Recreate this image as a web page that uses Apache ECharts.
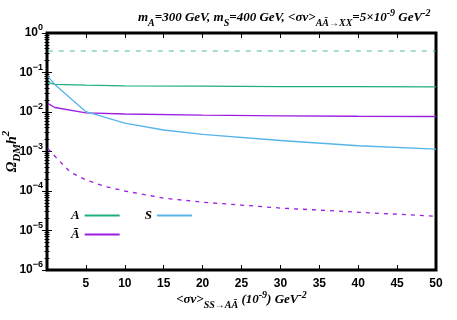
<!DOCTYPE html>
<html>
<head>
<meta charset="utf-8">
<script src="https://cdn.jsdelivr.net/npm/echarts@6/dist/echarts.min.js"></script>
</head>
<body style="margin:0">
<div id="main" style="width:457px;height:320px;"></div>
<script type="text/javascript">
// x tick values (10^-9 GeV^-2)
var xTicks = [5, 10, 15, 20, 25, 30, 35, 40, 45, 50];
var yTicks = [1e-6, 1e-5, 1e-4, 1e-3, 1e-2, 1e-1, 1];

// A, solid
var aX = [0.1, 1, 5, 10, 20, 30, 40, 50];
var aY = [0.056, 0.05, 0.048, 0.046, 0.045, 0.044, 0.044, 0.0435];
// A, dashed
var aDashX = [0.1, 50];
var aDashY = [0.35, 0.35];
// A-bar, solid
var abX = [0.1, 1, 5, 10, 20, 30, 40, 50];
var abY = [0.0165, 0.013, 0.0095, 0.0089, 0.0083, 0.008, 0.0078, 0.0077];
// A-bar, dashed
var abDashX = [0.1, 1.5, 3, 5, 7.5, 10, 15, 20, 25, 30, 40, 50];
var abDashY = [0.0012, 0.0006, 0.0003, 0.00019, 0.00013, 0.0001, 0.000066, 0.000052, 0.000044, 0.000037, 0.000029, 0.000023];
// S, solid
var sX = [0.1, 1, 5, 10, 15, 20, 30, 40, 50];
var sY = [0.08, 0.05, 0.0102, 0.0052, 0.0035, 0.0027, 0.0019, 0.0014, 0.00115];

function pairs(xs, ys) {
	var out = [];
	for (var i = 0; i < xs.length; i++) out.push([xs[i], ys[i]]);
	return out;
}

var green = '#1fae80', purple = '#9b1fe0', blue = '#56b4e9';
var serif = 'Liberation Serif', sans = 'Liberation Sans';

var chart = echarts.init(document.getElementById('main'));

var supRich = {
	b: {fontFamily: sans, fontWeight: 'bold', fontSize: 12, color: '#000'},
	s: {fontFamily: sans, fontWeight: 'bold', fontSize: 9, color: '#000', padding: [0, 0, 10, 0]}
};
function textRich(size) {
	var base = {fontFamily: serif, fontStyle: 'italic', fontWeight: 'bold', color: '#000'};
	return {
		t: Object.assign({fontSize: size}, base),
		sub: Object.assign({fontSize: size - 3, padding: [size - 3, 0, 0, 0]}, base),
		sup: Object.assign({fontSize: size - 3, padding: [0, 0, size - 3, 0]}, base)
	};
}

var option = {
	animation: false,
	title: {
		text: '{t|m}{sub|A}{t|=300 GeV, m}{sub|S}{t|=400 GeV, <σv>}{sub|AĀ→XX}{t|=5×10}{sup|-9}{t| GeV}{sup|-2}',
		left: 133,
		top: 3,
		textStyle: {rich: textRich(13)}
	},
	grid: {left: 47, right: 21, top: 33, bottom: 50, show: true, borderColor: '#000', borderWidth: 3,
		outerBoundsMode: 'none', containLabel: false},
	legend: [
		{
			data: ['A', 'S'], left: 66, top: 204, align: 'right', icon: 'rect',
			itemWidth: 35, itemHeight: 2, itemGap: 25,
			textStyle: {fontFamily: serif, fontStyle: 'italic', fontWeight: 'bold', fontSize: 13, color: '#000'}
		},
		{
			data: ['Ā'], left: 66, top: 223, align: 'right', icon: 'rect',
			itemWidth: 35, itemHeight: 2,
			textStyle: {fontFamily: serif, fontStyle: 'italic', fontWeight: 'bold', fontSize: 13, color: '#000'}
		}
	],
	xAxis: [
		{
			type: 'value', min: 0, max: 50, interval: 5, position: 'bottom',
			axisLine: {show: false},
			axisTick: {inside: true, length: 5, lineStyle: {color: '#000'}},
			splitLine: {show: false},
			axisLabel: {showMinLabel: false, margin: 8, fontFamily: sans, fontWeight: 'bold', fontSize: 12, color: '#000'},
			name: '{t|<σv>}{sub|SS→AĀ}{t| (10}{sup|-9}{t|) GeV}{sup|-2}',
			nameLocation: 'middle', nameGap: 20, nameMoveOverlap: false,
			nameTextStyle: {rich: textRich(13)}
		},
		{
			type: 'value', min: 0, max: 50, interval: 5, position: 'top',
			axisLine: {show: false},
			axisTick: {inside: true, length: 5, lineStyle: {color: '#000'}},
			splitLine: {show: false},
			axisLabel: {show: false}
		}
	],
	yAxis: [
		{
			type: 'log', logBase: 10, min: 1e-6, max: 1, position: 'left',
			axisLine: {show: false},
			axisTick: {inside: true, length: 5, lineStyle: {color: '#000'}},
			minorTick: {show: true, splitNumber: 9, length: 2.5, lineStyle: {color: '#000'}},
			splitLine: {show: false},
			axisLabel: {
				margin: 4,
				formatter: function (v) {
					var e = Math.round(Math.log10(v));
					return '{b|10}{s|' + (e < 0 ? '−' + (-e) : e) + '}';
				},
				rich: supRich
			},
			name: '{t|Ω}{sub|DM}{t|h}{sup|2}',
			nameLocation: 'middle', nameGap: 24, nameRotate: 90, nameMoveOverlap: false,
			nameTextStyle: {rich: textRich(14)}
		},
		{
			type: 'log', logBase: 10, min: 1e-6, max: 1, position: 'right',
			axisLine: {show: false},
			axisTick: {inside: true, length: 5, lineStyle: {color: '#000'}},
			minorTick: {show: true, splitNumber: 9, length: 2.5, lineStyle: {color: '#000'}},
			splitLine: {show: false},
			axisLabel: {show: false}
		}
	],
	series: [
		{name: 'A', type: 'line', showSymbol: false, color: green, lineStyle: {width: 1.3, color: green}, data: pairs(aX, aY)},
		{name: 'A dashed', type: 'line', showSymbol: false, color: green, lineStyle: {width: 1.1, color: green, type: [5, 6], opacity: 0.8}, data: pairs(aDashX, aDashY)},
		{name: 'Ā', type: 'line', showSymbol: false, color: purple, lineStyle: {width: 1.3, color: purple}, data: pairs(abX, abY)},
		{name: 'Ā dashed', type: 'line', showSymbol: false, color: purple, lineStyle: {width: 1.3, color: purple, type: [4, 5]}, data: pairs(abDashX, abDashY)},
		{name: 'S', type: 'line', showSymbol: false, color: blue, lineStyle: {width: 1.3, color: blue}, data: pairs(sX, sY)}
	]
};
chart.setOption(option);
</script>
</body>
</html>
